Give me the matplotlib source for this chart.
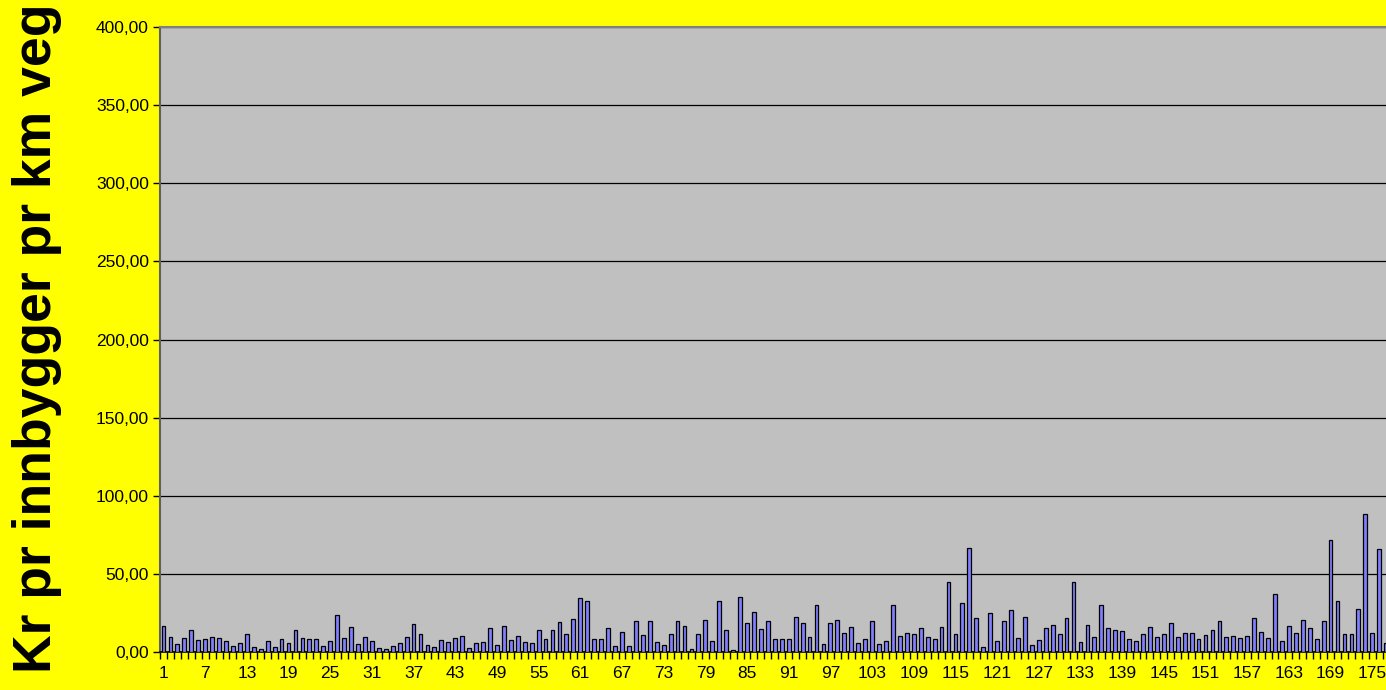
import matplotlib
matplotlib.use("Agg")
import matplotlib.pyplot as plt
from matplotlib.ticker import FixedLocator, FuncFormatter

# values, one per municipality (1..177, right edge is cut off)
values = [
    16.7, 9.4, 5.1, 9.0, 14.3, 7.7, 8.1, 9.4, 8.8, 6.8,
    4.1, 5.6, 11.3, 3.2, 1.9, 7.3, 3.2, 8.5, 6.0, 13.9,
    9.0, 8.5, 8.5, 3.6, 7.3, 23.7, 9.0, 16.0, 4.9, 9.8,
    6.8, 2.4, 1.9, 4.1, 6.0, 9.8, 17.9, 11.3, 4.7, 3.4,
    7.9, 6.6, 9.0, 10.5, 2.4, 6.0, 6.4, 15.2, 4.7, 16.7,
    7.7, 10.5, 6.4, 5.6, 13.9, 8.5, 13.9, 19.0, 11.3, 21.4,
    34.4, 32.5, 8.1, 8.5, 15.2, 3.6, 12.6, 3.6, 19.7, 10.9,
    20.1, 6.4, 4.7, 11.3, 20.1, 16.7, 1.7, 11.3, 20.5, 6.8,
    32.5, 13.9, 1.5, 35.3, 18.8, 25.9, 14.7, 19.7, 8.1, 8.5,
    8.5, 22.2, 18.4, 9.8, 29.9, 4.9, 18.4, 20.5, 12.4, 16.0,
    5.6, 8.1, 19.7, 5.1, 7.3, 29.9, 10.3, 12.0, 11.3, 15.2,
    9.4, 8.1, 16.2, 45.1, 11.8, 31.2, 66.7, 21.8, 3.2, 25.0,
    7.3, 19.7, 26.7, 9.0, 22.2, 4.5, 7.7, 15.6, 17.5, 11.3,
    21.8, 45.1, 6.4, 17.5, 9.4, 30.3, 15.6, 13.9, 13.2, 8.5,
    7.3, 11.3, 16.2, 9.8, 11.3, 18.4, 9.4, 12.4, 12.4, 8.5,
    11.1, 13.9, 20.1, 9.4, 10.5, 9.0, 10.0, 21.8, 12.6, 9.0,
    37.2, 7.3, 16.7, 12.2, 20.5, 15.6, 8.1, 20.1, 72.0, 32.7,
    11.3, 11.8, 27.6, 88.5, 12.2, 66.0, 6.0,
]
positions = list(range(1, len(values) + 1))
label_positions = list(range(1, 176, 6))
y_ticks = list(range(0, 401, 50))

W, H = 1386, 690
fig = plt.figure(figsize=(W / 100, H / 100), dpi=100)
fig.patch.set_facecolor("#FFFF00")

# plot area continues past the right edge of the picture, as in the reference
step = 6.947
n_slots = 180
left_px, top_px, bottom_px = 160, 27, 652
ax = fig.add_axes([left_px / W, (H - bottom_px) / H,
                   n_slots * step / W, (bottom_px - top_px) / H])
ax.set_facecolor("#C0C0C0")

ax.bar(positions, values, width=0.55, color="#8080FF",
       edgecolor="black", linewidth=0.9, zorder=3)

ax.set_xlim(0.5, n_slots + 0.5)
ax.set_ylim(0, 400)

ax.set_yticks(y_ticks)
ax.yaxis.set_major_formatter(FuncFormatter(lambda v, p: f"{v:.2f}".replace(".", ",")))
ax.yaxis.grid(True, color="black", linewidth=0.9, zorder=1)
ax.tick_params(axis="y", direction="out", length=5, width=1, colors="black",
               labelsize=12.5, pad=3)

ax.xaxis.set_major_locator(FixedLocator(label_positions))
ax.xaxis.set_minor_locator(FixedLocator([p + 0.5 for p in range(0, n_slots + 1)]))
ax.tick_params(axis="x", which="major", length=0, labelsize=12.5, pad=10)
ax.tick_params(axis="x", which="minor", direction="out", length=5, width=1)

for lab in ax.get_xticklabels() + ax.get_yticklabels():
    lab.set_family(["Liberation Sans", "DejaVu Sans"])

ax.spines["top"].set_color("#808080")
ax.spines["top"].set_linewidth(1.5)
ax.spines["left"].set_color("#606060")
ax.spines["left"].set_linewidth(1.5)
ax.spines["bottom"].set_color("black")
ax.spines["bottom"].set_linewidth(1.2)
ax.spines["right"].set_visible(False)

fig.text(0.027, 0.51, "Kr pr innbygger pr km veg", rotation=90,
         ha="center", va="center", fontsize=38.5, fontweight="bold",
         family=["Liberation Sans", "DejaVu Sans"])

fig.savefig("out.png", dpi=100, facecolor=fig.get_facecolor())
